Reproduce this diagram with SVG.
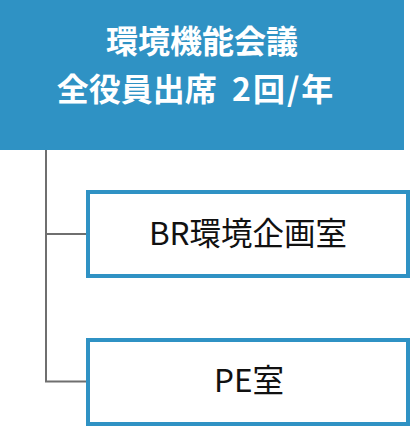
<svg xmlns="http://www.w3.org/2000/svg" width="410" height="426" viewBox="0 0 410 426">
<style>
.head{fill:#2f92c4}
.box{fill:#ffffff;stroke:#2f92c4;stroke-width:4}
.ht{font-family:"Noto Sans CJK JP","Noto Sans",sans-serif;font-weight:bold;font-size:32px;fill:#ffffff;text-anchor:middle}
.bt{font-family:"Noto Sans CJK JP","Noto Sans",sans-serif;font-size:31.5px;fill:#111111;text-anchor:middle}
.conn{fill:none;stroke:#6f6f6f;stroke-width:2}
</style>
<rect width="410" height="426" fill="#ffffff"/>
<g id="connectors">
<path class="conn" d="M46 150 V381.5 H88 M46 234 H88"/>
</g>
<g id="node-top">
<rect class="head" x="0" y="0" width="404" height="150"/>
<text class="ht" x="202" y="53">環境機能会議</text>
<text class="ht" x="196" y="101" word-spacing="8">全役員出席 <tspan letter-spacing="2">2回/年</tspan></text>
</g>
<g id="node-br">
<rect class="box" x="88" y="192" width="320" height="84"/>
<text class="bt" x="248" y="245">BR環境企画室</text>
</g>
<g id="node-pe">
<rect class="box" x="88" y="340" width="320" height="84"/>
<text class="bt" x="249" y="392">PE室</text>
</g>
</svg>
